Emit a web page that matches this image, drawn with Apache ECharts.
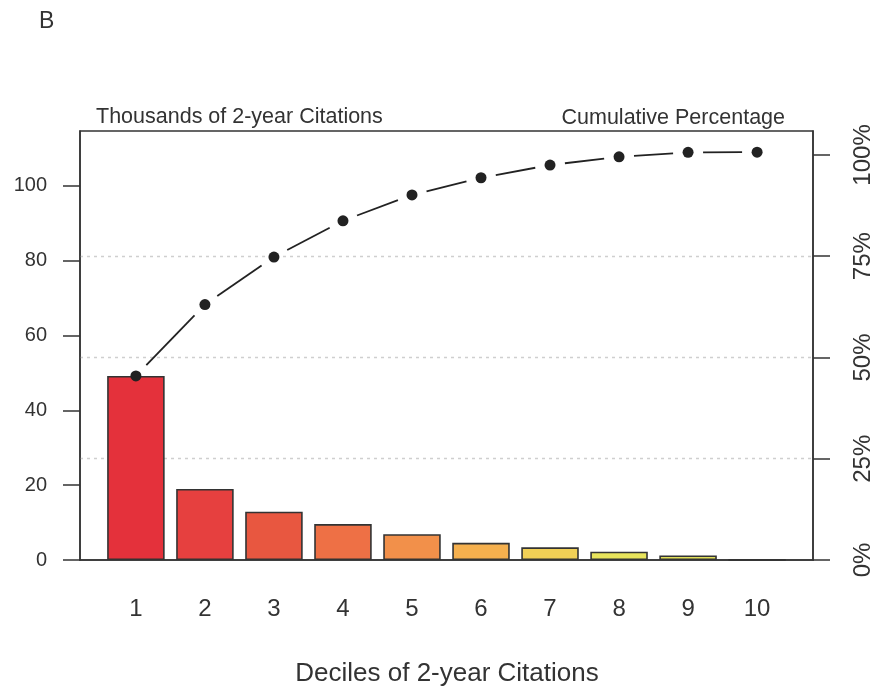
<!DOCTYPE html>
<html>
<head>
<meta charset="utf-8">
<script src="https://cdn.jsdelivr.net/npm/echarts@6/dist/echarts.min.js"></script>
<style>
  html, body { margin: 0; padding: 0; background: #ffffff; }
  #chart { width: 875px; height: 691px; }
</style>
</head>
<body>
<div id="chart"></div>
<script>
// Citation totals per decile (thousands) and their running total
const deciles = [1, 2, 3, 4, 5, 6, 7, 8, 9, 10];
const thousands = [49.2, 19.0, 12.9, 9.6, 6.9, 4.6, 3.4, 2.2, 1.2, 0.05];
const cumulativeThousands = [49.2, 68.3, 81.0, 90.7, 97.6, 102.2, 105.6, 107.8, 109.0, 109.05];
const barColors = ['#E4313B', '#E6403F', '#E85740', '#EE7045', '#F2904A',
                   '#F5B04E', '#F1D056', '#E8E45C', '#E2E05A', '#DCDC58'];
const leftTicks = [0, 20, 40, 60, 80, 100];
const percentTicks = [0, 25, 50, 75, 100];

// Thousands of citations that the 100% mark stands for, and top of the value axis
const hundredPercentAt = 108.3;
const leftMax = 114.7;
const rightMax = leftMax / hundredPercentAt * 100;

const ink = '#333333';
const textFont = 'Liberation Sans, Arial, sans-serif';

const chart = echarts.init(document.getElementById('chart'), null, { renderer: 'canvas' });

const barData = deciles.map((d, i) => ({
  value: [d, thousands[i]],
  itemStyle: { color: barColors[i] }
}));
const cumData = deciles.map((d, i) => [d, cumulativeThousands[i]]);

// Segment between consecutive points, trimmed so it stops short of each dot
function renderSegment(params, api) {
  const i = params.dataIndex;
  if (i === 0) return null;
  const p0 = api.coord([deciles[i - 1], cumulativeThousands[i - 1]]);
  const p1 = api.coord([api.value(0), api.value(1)]);
  const dx = p1[0] - p0[0];
  const dy = p1[1] - p0[1];
  const len = Math.sqrt(dx * dx + dy * dy);
  const gap = 15;
  if (len <= 2 * gap) return null;
  const ux = dx / len, uy = dy / len;
  return {
    type: 'line',
    shape: {
      x1: p0[0] + ux * gap, y1: p0[1] + uy * gap,
      x2: p1[0] - ux * gap, y2: p1[1] - uy * gap
    },
    style: { stroke: '#222222', lineWidth: 1.8 }
  };
}

const option = {
  animation: false,
  backgroundColor: '#ffffff',
  grid: {
    left: 80, right: 62, top: 131, bottom: 131,
    show: true, borderColor: ink, borderWidth: 1.5, backgroundColor: 'transparent'
  },
  xAxis: {
    type: 'value',
    min: 0.19, max: 10.81,
    axisLine: { show: true, lineStyle: { color: ink, width: 1.5 } },
    axisTick: { show: false },
    splitLine: { show: false },
    axisLabel: {
      customValues: deciles,
      color: ink, fontFamily: textFont, fontSize: 24, margin: 37
    }
  },
  yAxis: [
    {
      type: 'value', position: 'left',
      min: 0, max: leftMax,
      axisLine: { show: true, lineStyle: { color: ink, width: 1.5 } },
      axisTick: { show: true, customValues: leftTicks, length: 17, lineStyle: { color: ink, width: 1.5 } },
      axisLabel: { customValues: leftTicks, color: ink, fontFamily: textFont, fontSize: 20, margin: 33 },
      splitLine: { show: false }
    },
    {
      type: 'value', position: 'right',
      min: 0, max: rightMax, interval: 25,
      axisLine: { show: true, lineStyle: { color: ink, width: 1.5 } },
      axisTick: { show: true, customValues: percentTicks, length: 17, lineStyle: { color: ink, width: 1.5 } },
      axisLabel: {
        customValues: percentTicks, formatter: '{value}%', rotate: 90,
        color: ink, fontFamily: textFont, fontSize: 24, margin: 38
      },
      splitLine: {
        show: true, showMinLine: false, showMaxLine: false,
        lineStyle: { color: '#cfcfcf', width: 1.3, type: [3, 4] }
      }
    }
  ],
  series: [
    {
      type: 'bar',
      yAxisIndex: 0,
      data: barData,
      barWidth: '83.33%',
      itemStyle: { borderColor: ink, borderWidth: 1.6 }
    },
    {
      type: 'custom',
      yAxisIndex: 0,
      data: cumData,
      renderItem: renderSegment,
      z: 4
    },
    {
      type: 'scatter',
      yAxisIndex: 0,
      data: cumData,
      symbol: 'circle',
      symbolSize: 11,
      itemStyle: { color: '#222222', opacity: 1 },
      z: 5
    }
  ],
  graphic: [
    {
      type: 'text', left: 39, top: 10,
      style: { text: 'B', font: '23px ' + textFont, fill: ink }
    },
    {
      type: 'text', x: 96, y: 117,
      style: { text: 'Thousands of 2-year Citations', font: '21.5px ' + textFont, fill: ink,
               textAlign: 'left', textVerticalAlign: 'middle' }
    },
    {
      type: 'text', x: 785, y: 118,
      style: { text: 'Cumulative Percentage', font: '21.5px ' + textFont, fill: ink,
               textAlign: 'right', textVerticalAlign: 'middle' }
    },
    {
      type: 'text', x: 447, y: 674,
      style: { text: 'Deciles of 2-year Citations', font: '26px ' + textFont, fill: ink,
               textAlign: 'center', textVerticalAlign: 'middle' }
    }
  ]
};

chart.setOption(option);
</script>
</body>
</html>
